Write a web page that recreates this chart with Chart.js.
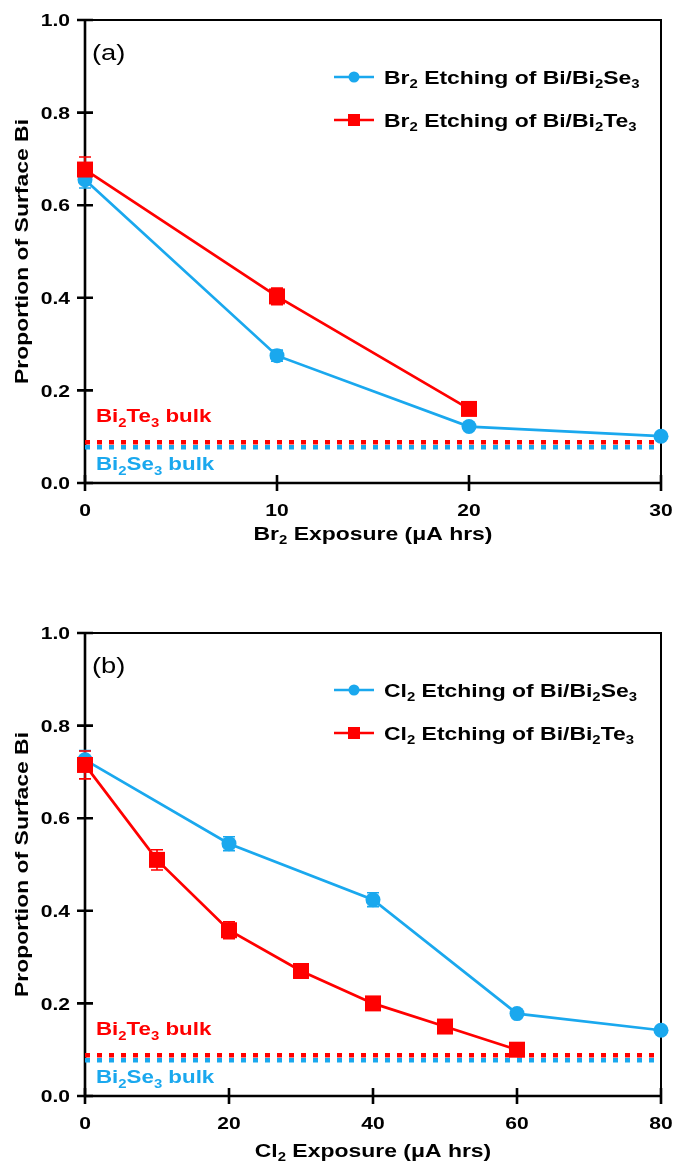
<!DOCTYPE html>
<html>
<head>
<meta charset="utf-8">
<script src="https://cdn.jsdelivr.net/npm/chart.js@4.4.0/dist/chart.umd.min.js"></script>
<style>
  html, body { margin: 0; padding: 0; background: #fff; }
  #wrap { position: relative; width: 675px; height: 1164px; }
  canvas { position: absolute; left: 0; }
</style>
</head>
<body>
<div id="wrap">
  <canvas id="chartA" width="675" height="560" style="top:0;width:675px;height:560px"></canvas>
  <canvas id="chartB" width="675" height="604" style="top:560px;width:675px;height:604px"></canvas>
</div>
<script>
// panel (a): Br2 etching
const brSeX = [0, 10, 20, 30];
const brSeY = [0.655, 0.275, 0.122, 0.101];
const brSeErr = [0.018, 0.012, 0.006, 0.005];
const brTeX = [0, 10, 20];
const brTeY = [0.677, 0.403, 0.16];
const brTeErr = [0.027, 0.018, 0.008];
const brXTicks = [0, 10, 20, 30];

// panel (b): Cl2 etching
const clSeX = [0, 20, 40, 60, 80];
const clSeY = [0.726, 0.545, 0.424, 0.178, 0.142];
const clSeErr = [0.02, 0.015, 0.015, 0.005, 0.005];
const clTeX = [0, 10, 20, 30, 40, 50, 60];
const clTeY = [0.715, 0.51, 0.358, 0.27, 0.2, 0.15, 0.1];
const clTeErr = [0.03, 0.022, 0.018, 0.006, 0.006, 0.005, 0.004];
const clXTicks = [0, 20, 40, 60, 80];

// bulk reference levels, y ticks
const bulkTe = 0.088;
const bulkSe = 0.077;
const yTicks = [0, 0.2, 0.4, 0.6, 0.8, 1.0];
const yTickLabels = ['0.0', '0.2', '0.4', '0.6', '0.8', '1.0'];

const BLUE = '#1aa8ee';
const RED = '#ff0000';
const FONT = '"Liberation Sans", Arial, sans-serif';
const SX = 1.24; // the figure's lettering is set wide

// "_3" -> subscript 3
function richParts(str) {
  const parts = [];
  let buf = '';
  for (let i = 0; i < str.length; i++) {
    if (str[i] === '_' && i + 1 < str.length) {
      if (buf) parts.push({ t: buf, sub: false });
      buf = '';
      parts.push({ t: str[i + 1], sub: true });
      i++;
    } else {
      buf += str[i];
    }
  }
  if (buf) parts.push({ t: buf, sub: false });
  return parts;
}

function drawRich(ctx, str, x, y, o) {
  const size = o.size;
  const weight = o.weight || 'bold';
  const subSize = Math.round(size * 0.66);
  const parts = richParts(str);
  ctx.save();
  ctx.translate(x, y);
  if (o.rotate) ctx.rotate(o.rotate);
  ctx.scale(SX, 1);
  ctx.fillStyle = o.color || '#000';
  ctx.textBaseline = 'alphabetic';
  ctx.textAlign = 'left';
  let w = 0;
  parts.forEach(p => {
    ctx.font = weight + ' ' + (p.sub ? subSize : size) + 'px ' + FONT;
    p.w = ctx.measureText(p.t).width;
    w += p.w;
  });
  let cx = o.align === 'center' ? -w / 2 : (o.align === 'right' ? -w : 0);
  const base = size * 0.36;
  parts.forEach(p => {
    ctx.font = weight + ' ' + (p.sub ? subSize : size) + 'px ' + FONT;
    ctx.fillText(p.t, cx, base + (p.sub ? size * 0.24 : 0));
    cx += p.w;
  });
  ctx.restore();
}

function toXY(xs, ys) {
  return xs.map((x, i) => ({ x: x, y: ys[i] }));
}

// axes frame, crossing ticks and error bars go under the markers
const framePlugin = {
  id: 'frame',
  beforeDatasetsDraw(chart) {
    const ctx = chart.ctx;
    const a = chart.chartArea;
    const xs = chart.scales.x;
    const ys = chart.scales.y;
    ctx.save();
    ctx.strokeStyle = '#000';
    ctx.lineCap = 'butt';
    ctx.lineWidth = 2;
    ctx.beginPath();
    ctx.moveTo(a.left, a.top);
    ctx.lineTo(a.right, a.top);
    ctx.lineTo(a.right, a.bottom);
    ctx.stroke();
    ctx.lineWidth = 2.6;
    ctx.beginPath();
    ctx.moveTo(a.left, a.top - 1);
    ctx.lineTo(a.left, a.bottom);
    ctx.lineTo(a.right + 1, a.bottom);
    ctx.stroke();
    ctx.beginPath();
    ys.ticks.forEach(t => {
      const py = ys.getPixelForValue(t.value);
      ctx.moveTo(a.left - 8, py);
      ctx.lineTo(a.left + 8, py);
    });
    xs.ticks.forEach(t => {
      const px = xs.getPixelForValue(t.value);
      ctx.moveTo(px, a.bottom - 8);
      ctx.lineTo(px, a.bottom + 8);
    });
    ctx.stroke();
    ctx.restore();

    // error bars
    chart.data.datasets.forEach((ds, i) => {
      if (!ds.err) return;
      ctx.save();
      ctx.strokeStyle = ds.borderColor;
      ctx.lineWidth = 1.6;
      ctx.beginPath();
      ds.data.forEach((pt, j) => {
        const e = ds.err[j];
        if (!e) return;
        const px = xs.getPixelForValue(pt.x);
        const y1 = ys.getPixelForValue(pt.y + e);
        const y2 = ys.getPixelForValue(pt.y - e);
        ctx.moveTo(px, y1); ctx.lineTo(px, y2);
        ctx.moveTo(px - 6, y1); ctx.lineTo(px + 6, y1);
        ctx.moveTo(px - 6, y2); ctx.lineTo(px + 6, y2);
      });
      ctx.stroke();
      ctx.restore();
    });
  },
  afterDraw(chart) {
    const ctx = chart.ctx;
    const a = chart.chartArea;
    const xs = chart.scales.x;
    const ys = chart.scales.y;
    const p = chart.options.plugins.frame;

    ys.ticks.forEach((t, i) => {
      drawRich(ctx, yTickLabels[i], 70, ys.getPixelForValue(t.value), { size: 17, align: 'right' });
    });
    xs.ticks.forEach(t => {
      drawRich(ctx, String(t.value), xs.getPixelForValue(t.value), a.bottom + 27, { size: 17, align: 'center' });
    });
    drawRich(ctx, p.xTitle, (a.left + a.right) / 2, a.bottom + p.xTitleGap, { size: 18.5, align: 'center' });
    drawRich(ctx, 'Proportion of Surface Bi', 21, (a.top + a.bottom) / 2, { size: 18.5, align: 'center', rotate: -Math.PI / 2 });
    drawRich(ctx, p.letter, a.left + 7, a.top + 32, { size: 22, weight: 'normal' });

    drawRich(ctx, 'Bi_2Te_3 bulk', a.left + 11, ys.getPixelForValue(0.145), { size: 18, color: RED });
    drawRich(ctx, 'Bi_2Se_3 bulk', a.left + 11, ys.getPixelForValue(0.041), { size: 18, color: BLUE });

    // legend
    p.legend.forEach((item, i) => {
      const ly = a.top + 57 + i * 43;
      const lx = 334;
      ctx.save();
      ctx.strokeStyle = item.color;
      ctx.fillStyle = item.color;
      ctx.lineWidth = 2.6;
      ctx.beginPath();
      ctx.moveTo(lx, ly); ctx.lineTo(lx + 40, ly);
      ctx.stroke();
      if (item.square) {
        ctx.fillRect(lx + 20 - 6, ly - 6, 12, 12);
      } else {
        ctx.beginPath();
        ctx.arc(lx + 20, ly, 5.5, 0, Math.PI * 2);
        ctx.fill();
      }
      ctx.restore();
      drawRich(ctx, item.text, lx + 50, ly, { size: 18.5 });
    });
  }
};

function makePanel(id, p) {
  const seriesStyle = (color, style, r, order) => ({
    borderColor: color, backgroundColor: color, pointBackgroundColor: color,
    pointStyle: style, pointRadius: r, pointBorderWidth: 0, borderWidth: 2.75,
    tension: 0, clip: false, order: order
  });
  const bulkStyle = (color, order) => ({
    borderColor: color, borderWidth: 4.5, borderDash: [5, 7], borderCapStyle: 'butt',
    pointRadius: 0, tension: 0, clip: false, order: order
  });
  return new Chart(document.getElementById(id), {
    type: 'line',
    data: {
      datasets: [
        Object.assign({ label: p.legend[0].text, data: toXY(p.seX, p.seY), err: p.seErr }, seriesStyle(BLUE, 'circle', 7.5, 2)),
        Object.assign({ label: p.legend[1].text, data: toXY(p.teX, p.teY), err: p.teErr }, seriesStyle(RED, 'rect', 11.3, 1)),
        Object.assign({ label: 'Bi2Te3 bulk', data: [{ x: 0, y: bulkTe }, { x: p.xMax, y: bulkTe }] }, bulkStyle(RED, 3)),
        Object.assign({ label: 'Bi2Se3 bulk', data: [{ x: 0, y: bulkSe }, { x: p.xMax, y: bulkSe }] }, bulkStyle(BLUE, 4))
      ]
    },
    options: {
      responsive: false,
      animation: false,
      events: [],
      layout: { padding: { top: p.top, right: 14, left: 0, bottom: 0 } },
      scales: {
        x: {
          type: 'linear', min: 0, max: p.xMax,
          afterBuildTicks: s => { s.ticks = p.xTicks.map(v => ({ value: v })); },
          afterFit: s => { s.height = p.xAxisH; },
          ticks: { display: false },
          grid: { display: false },
          border: { display: false }
        },
        y: {
          type: 'linear', min: 0, max: 1,
          afterBuildTicks: s => { s.ticks = yTicks.map(v => ({ value: v })); },
          afterFit: s => { s.width = 85; },
          ticks: { display: false },
          grid: { display: false },
          border: { display: false }
        }
      },
      plugins: {
        legend: { display: false },
        tooltip: { enabled: false },
        frame: { xTitle: p.xTitle, xTitleGap: p.xTitleGap, letter: p.letter, legend: p.legend }
      }
    },
    plugins: [framePlugin]
  });
}

makePanel('chartA', {
  seX: brSeX, seY: brSeY, seErr: brSeErr,
  teX: brTeX, teY: brTeY, teErr: brTeErr,
  xTicks: brXTicks, xMax: 30, top: 20, xAxisH: 77, xTitleGap: 50,
  xTitle: 'Br_2 Exposure (\u03bcA hrs)', letter: '(a)',
  legend: [
    { text: 'Br_2 Etching of Bi/Bi_2Se_3', color: BLUE, square: false },
    { text: 'Br_2 Etching of Bi/Bi_2Te_3', color: RED, square: true }
  ]
});

makePanel('chartB', {
  seX: clSeX, seY: clSeY, seErr: clSeErr,
  teX: clTeX, teY: clTeY, teErr: clTeErr,
  xTicks: clXTicks, xMax: 80, top: 73, xAxisH: 68, xTitleGap: 54,
  xTitle: 'Cl_2 Exposure (\u03bcA hrs)', letter: '(b)',
  legend: [
    { text: 'Cl_2 Etching of Bi/Bi_2Se_3', color: BLUE, square: false },
    { text: 'Cl_2 Etching of Bi/Bi_2Te_3', color: RED, square: true }
  ]
});
</script>
</body>
</html>
